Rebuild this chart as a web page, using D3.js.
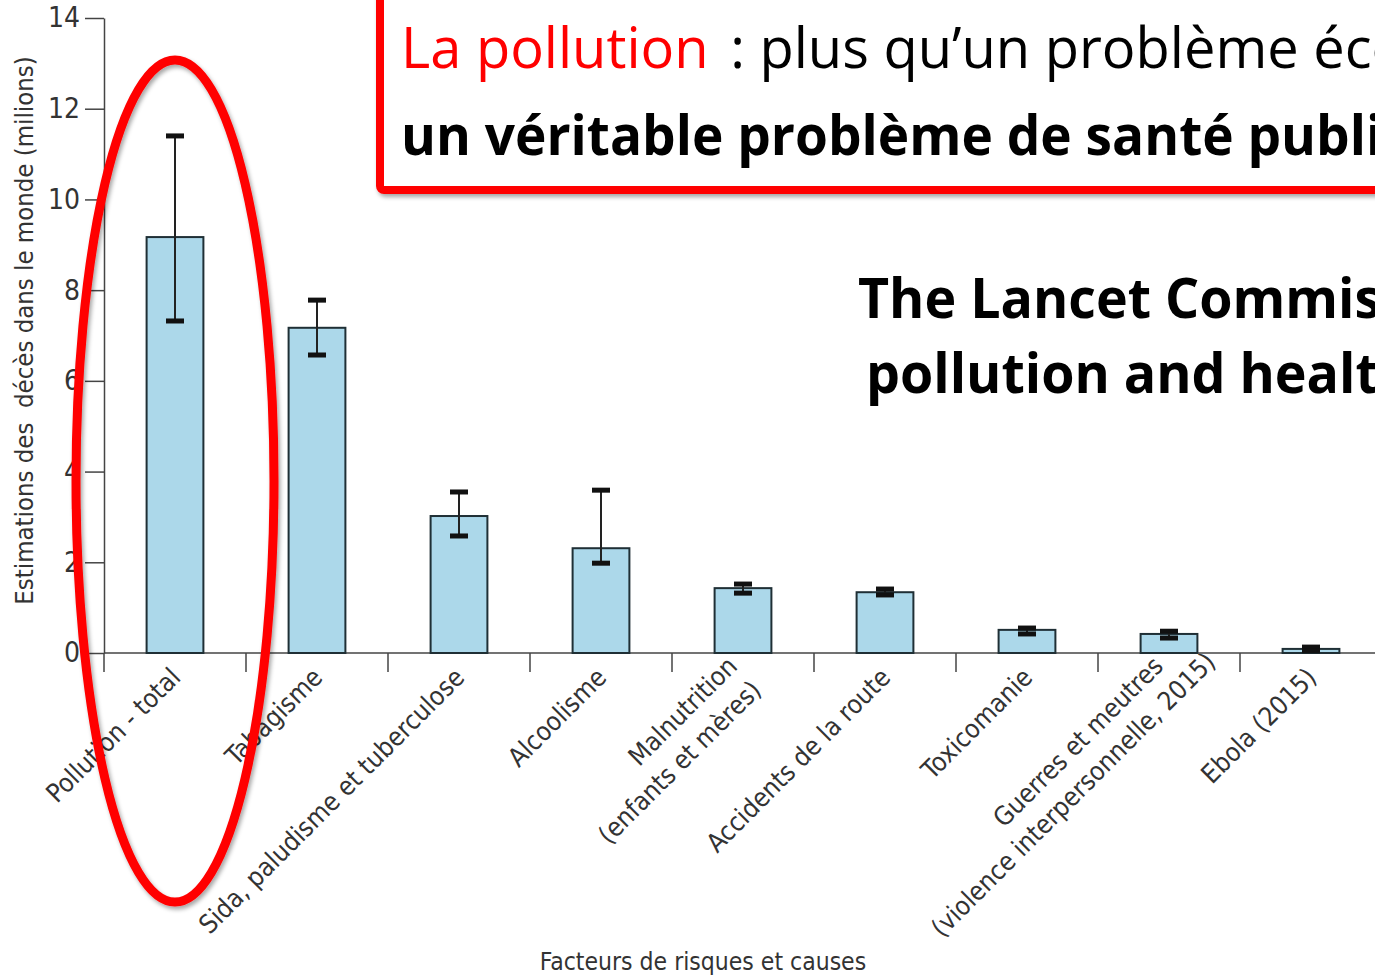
<!DOCTYPE html>
<html>
<head>
<meta charset="utf-8">
<script src="https://cdn.jsdelivr.net/npm/d3@7"></script>
<style>
  body { margin: 0; background: #fff; overflow: hidden; }
  .axis-text { font-family: "Liberation Sans Narrow", "DejaVu Sans Condensed", sans-serif; font-stretch: condensed; fill: #333; }
  .title { font-family: "Open Sans", "Noto Sans", sans-serif; }
</style>
</head>
<body>
<div id="chart"></div>
<script>
// Categories (one entry per bar, split over lines as in the figure)
const categories = [
  ["Pollution - total"],
  ["Tabagisme"],
  ["Sida, paludisme et tuberculose"],
  ["Alcoolisme"],
  ["Malnutrition", "(enfants et mères)"],
  ["Accidents de la route"],
  ["Toxicomanie"],
  ["Guerres et meutres", "(violence interpersonnelle, 2015)"],
  ["Ebola (2015)"]
];
// Estimated deaths (millions) and uncertainty range
const deaths = [9.17, 7.17, 3.02, 2.31, 1.43, 1.34, 0.51, 0.42, 0.09];
const lower  = [7.32, 6.57, 2.58, 1.98, 1.32, 1.28, 0.42, 0.33, 0.05];
const upper  = [11.4, 7.78, 3.55, 3.59, 1.52, 1.41, 0.55, 0.48, 0.13];
const yTicks = [0, 2, 4, 6, 8, 10, 12, 14];

const width = 1375, height = 979;
const margin = { left: 104, top: 18, bottom: 326 };

// The svg
const svg = d3.select("#chart")
  .append("svg")
  .attr("width", width)
  .attr("height", height);

const defs = svg.append("defs");
const shadow = defs.append("filter").attr("id", "shadow")
  .attr("x", "-20%").attr("y", "-20%").attr("width", "140%").attr("height", "140%");
shadow.append("feDropShadow")
  .attr("dx", 2).attr("dy", 3).attr("stdDeviation", 2)
  .attr("flood-color", "#000").attr("flood-opacity", 0.35);

// Scales
const keys = categories.map(d => d.join(" "));
const x = d3.scaleBand()
  .domain(keys)
  .range([margin.left, margin.left + 142 * keys.length])
  .paddingInner(0.6)
  .paddingOuter(0.3);
const y = d3.scaleLinear()
  .domain([0, 14])
  .range([height - margin.bottom, margin.top]);

const y0 = y(0);
const gap = (x.step() - x.bandwidth()) / 2;

// helper: title line squeezed horizontally to mimic the narrow slide font
function titleLine(x0, y0, sx, bold) {
  return svg.append("text").attr("class", "title")
    .attr("x", x0).attr("y", y0)
    .attr("font-size", 56)
    .attr("font-weight", bold ? "bold" : "normal")
    .attr("transform", "translate(" + x0 + ",0) scale(" + sx + ",1) translate(" + (-x0) + ",0)");
}

// Title box
svg.append("rect")
  .attr("x", 380).attr("y", -20)
  .attr("width", 1200).attr("height", 210)
  .attr("rx", 4)
  .attr("fill", "#fff")
  .attr("stroke", "#ff0000")
  .attr("stroke-width", 8)
  .attr("filter", "url(#shadow)");

const t1 = titleLine(401, 68, 1.0, false);
t1.append("tspan").attr("fill", "#ff0000").text("La pollution");
t1.append("tspan").attr("fill", "#000").attr("dx", 7).text(" : plus qu’un problème écologique,");

titleLine(401, 155, 0.95, true).text("un véritable problème de santé publique");
titleLine(858, 318, 0.96, true).text("The Lancet Commission on");
titleLine(866, 393, 0.96, true).text("pollution and health");

// Y axis
const yAxis = svg.append("g")
  .attr("transform", "translate(" + margin.left + ",0)")
  .call(d3.axisLeft(y).tickValues(yTicks).tickSize(19).tickSizeOuter(0).tickPadding(5));
yAxis.selectAll("path, line").attr("stroke", "#444").attr("stroke-width", 1.5);
yAxis.selectAll("text")
  .attr("class", "axis-text")
  .attr("font-size", 28);

svg.append("text")
  .attr("class", "axis-text")
  .attr("font-size", 25.5)
  .attr("text-anchor", "middle")
  .attr("transform", "translate(33," + ((y(0) + y(14)) / 2 - 5) + ") rotate(-90)")
  .style("white-space", "pre")
  .text("Estimations des  décès dans le monde (milions)");

// X axis line and boundary ticks
svg.append("line")
  .attr("x1", margin.left).attr("x2", width)
  .attr("y1", y0).attr("y2", y0)
  .attr("stroke", "#444").attr("stroke-width", 1.5);

svg.append("g")
  .selectAll("line")
  .data(keys)
  .enter()
  .append("line")
  .attr("x1", d => x(d) - gap)
  .attr("x2", d => x(d) - gap)
  .attr("y1", y0)
  .attr("y2", y0 + 19)
  .attr("stroke", "#444").attr("stroke-width", 1.5);

// Bars
svg.append("g")
  .selectAll("rect")
  .data(keys)
  .enter()
  .append("rect")
  .attr("x", d => x(d))
  .attr("y", (d, i) => y(deaths[i]))
  .attr("width", x.bandwidth())
  .attr("height", (d, i) => y0 - y(deaths[i]))
  .attr("fill", "#acd8ea")
  .attr("stroke", "#1f2f35")
  .attr("stroke-width", 2);

// Error bars
const err = svg.append("g").selectAll("g")
  .data(keys)
  .enter()
  .append("g")
  .attr("transform", d => "translate(" + (x(d) + x.bandwidth() / 2) + ",0)");
err.append("line")
  .attr("y1", (d, i) => y(lower[i]))
  .attr("y2", (d, i) => y(upper[i]))
  .attr("stroke", "#222").attr("stroke-width", 2);
err.append("rect")
  .attr("x", -9).attr("width", 18)
  .attr("y", (d, i) => y(upper[i]) - 2.5).attr("height", 5)
  .attr("fill", "#111");
err.append("rect")
  .attr("x", -9).attr("width", 18)
  .attr("y", (d, i) => y(lower[i]) - 2.5).attr("height", 5)
  .attr("fill", "#111");

// Category labels, rotated
const secondLineShift = { 7: 40 };
const labels = svg.append("g").selectAll("text")
  .data(categories)
  .enter()
  .append("text")
  .attr("class", "axis-text")
  .attr("font-size", 26)
  .attr("text-anchor", "end")
  .attr("transform", (d, i) => "translate(" + (x(keys[i]) + x.bandwidth() / 2 + 7) + "," + (y0 + 26) + ") rotate(-45)");
labels.each(function (d, i) {
  const el = d3.select(this);
  d.forEach((line, j) => {
    el.append("tspan")
      .attr("x", j === 1 ? (secondLineShift[i] || 0) : 0)
      .attr("y", d.length === 1 ? 0 : (j === 0 ? -16 : 18))
      .text(line);
  });
});

// X axis title
svg.append("text")
  .attr("class", "axis-text")
  .attr("font-size", 24.5)
  .attr("text-anchor", "middle")
  .attr("x", 703).attr("y", 970)
  .text("Facteurs de risques et causes");

// Red ellipse highlighting pollution
svg.append("ellipse")
  .attr("cx", x(keys[0]) + x.bandwidth() / 2)
  .attr("cy", 481)
  .attr("rx", 99).attr("ry", 421)
  .attr("fill", "none")
  .attr("stroke", "#ff0000")
  .attr("stroke-width", 9)
  .attr("filter", "url(#shadow)");
</script>
</body>
</html>
